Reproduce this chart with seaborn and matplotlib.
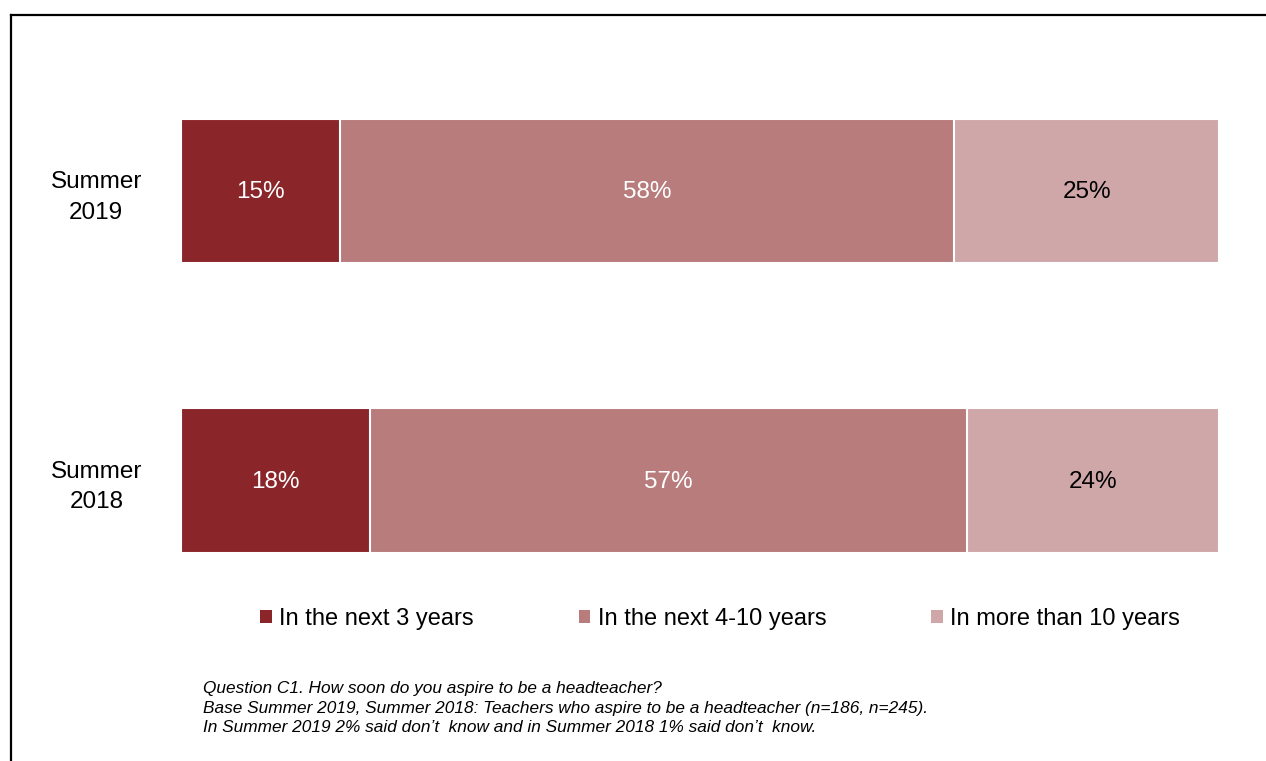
import matplotlib
matplotlib.use("Agg")
import matplotlib.pyplot as plt
from matplotlib.patches import Rectangle
from matplotlib.lines import Line2D
import seaborn as sns
import pandas as pd
import numpy as np

# Survey data
periods = ["Summer\n2019", "Summer\n2018"]
categories = ["In the next 3 years", "In the next 4-10 years", "In more than 10 years"]
next_3 = [15, 18]
next_4_10 = [58, 57]
more_10 = [25, 24]
colors = ["#8A252A", "#B87C7D", "#D0A7A8"]
label_colors = ["white", "white", "black"]
footnotes = [
    "Question C1. How soon do you aspire to be a headteacher?",
    "Base Summer 2019, Summer 2018: Teachers who aspire to be a headteacher (n=186, n=245).",
    "In Summer 2019 2% said don\u2019t  know and in Summer 2018 1% said don\u2019t  know.",
]

sns.set_theme(style="white")
plt.rcParams["font.family"] = ["Liberation Sans", "DejaVu Sans"]
plt.rcParams["text.color"] = "black"
plt.rcParams["ytick.color"] = "black"

values = np.array([next_3, next_4_10, more_10], dtype=float)  # (category, period)
shares = values / values.sum(axis=0)  # each bar spans the full 100% width
cum = np.cumsum(shares, axis=0)

df = pd.DataFrame({"period": periods})
for i, c in enumerate(categories):
    df[c] = cum[i]

W, H = 1266, 761
fig = plt.figure(figsize=(W / 100, H / 100), dpi=100)
ax = fig.add_axes([181 / W, 1 - 625.25 / H, (1219 - 181) / W, 579 / H])

# Draw cumulative bars from the longest to the shortest so each segment shows
for i in reversed(range(len(categories))):
    sns.barplot(data=df, x=categories[i], y="period", orient="h", color=colors[i],
                width=0.5, edgecolor="white", linewidth=1.5, saturation=1, ax=ax)

# Segment value labels
for j in range(len(periods)):
    left = 0.0
    for i in range(len(categories)):
        mid = left + shares[i, j] / 2
        ax.text(mid, j + 0.005, f"{int(values[i, j])}%", ha="center", va="center",
                color=label_colors[i], fontsize=17.5)
        left = cum[i, j]

ax.set_xlim(0, 1)
ax.set_ylim(1.5, -0.5)
ax.set_xlabel("")
ax.set_ylabel("")
ax.set_xticks([])
ax.tick_params(axis="y", length=0, pad=61, labelsize=17.5, labelcolor="black")
for lbl in ax.get_yticklabels():
    lbl.set_horizontalalignment("center")
    lbl.set_linespacing(1.5)
for s in ax.spines.values():
    s.set_visible(False)

# Legend
handles = [Rectangle((0, 0), 1, 1, facecolor=c, edgecolor="none") for c in colors]
fig.legend(handles, categories, loc="center", bbox_to_anchor=(720 / W, 1 - 619 / H),
           ncol=3, frameon=False, fontsize=17, handlelength=0.5, handleheight=0.5,
           handletextpad=0.3, columnspacing=4.45)

# Footnotes
for k, line in enumerate(footnotes):
    fig.text(203 / W, 1 - (688 + 20 * k) / H, line, ha="left", va="center",
             fontsize=12.4, style="italic",
             family=["Liberation Sans Narrow", "Liberation Sans", "DejaVu Sans"])

# Frame lines along the top and left edges
x0, y0 = 10.5 / W, 1 - 14.5 / H
fig.add_artist(Line2D([x0, 1.05], [y0, y0], transform=fig.transFigure,
                      color="black", linewidth=1.6, solid_capstyle="projecting"))
fig.add_artist(Line2D([x0, x0], [y0, -0.05], transform=fig.transFigure,
                      color="black", linewidth=1.6, solid_capstyle="projecting"))

fig.savefig("out.png", dpi=100, facecolor="white")
